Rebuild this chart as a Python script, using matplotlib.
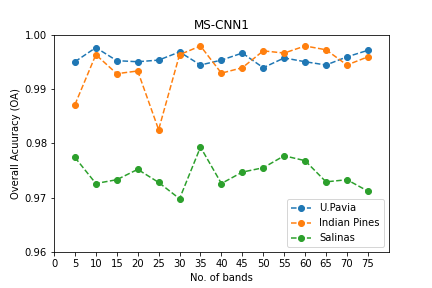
import matplotlib
matplotlib.use('Agg')
import matplotlib.pyplot as plt
import numpy as np

bands = [5, 10, 15, 20, 25, 30, 35, 40, 45, 50, 55, 60, 65, 70, 75]
pavia = [0.9950, 0.9976, 0.9952, 0.9950, 0.9953, 0.9968, 0.9944, 0.9953,
         0.9966, 0.9939, 0.9957, 0.9950, 0.9944, 0.9959, 0.9971]
indian = [0.9871, 0.9963, 0.9928, 0.9933, 0.9825, 0.9963, 0.9979, 0.9929,
          0.9939, 0.9970, 0.9966, 0.9979, 0.9972, 0.9944, 0.9959]
salinas = [0.9774, 0.9726, 0.9733, 0.9752, 0.9728, 0.9698, 0.9793, 0.9726,
           0.9747, 0.9755, 0.9777, 0.9768, 0.9729, 0.9733, 0.9712]

fig, ax = plt.subplots(figsize=(6, 4), dpi=72)
fig.subplots_adjust(bottom=0.125)
ax.plot(bands, pavia, 'o--', label='U.Pavia')
ax.plot(bands, indian, 'o--', label='Indian Pines')
ax.plot(bands, salinas, 'o--', label='Salinas')

ax.set_xlim(0, 80)
ax.set_ylim(0.96, 1.0)
ax.set_xticks(np.arange(0, 80, 5))
ax.set_yticks([0.96, 0.97, 0.98, 0.99, 1.00])
ax.set_title('MS-CNN1')
ax.set_xlabel('No. of bands')
ax.set_ylabel('Overall Acuuracy (OA)')
ax.legend(loc='lower right')

plt.savefig('out.png')
